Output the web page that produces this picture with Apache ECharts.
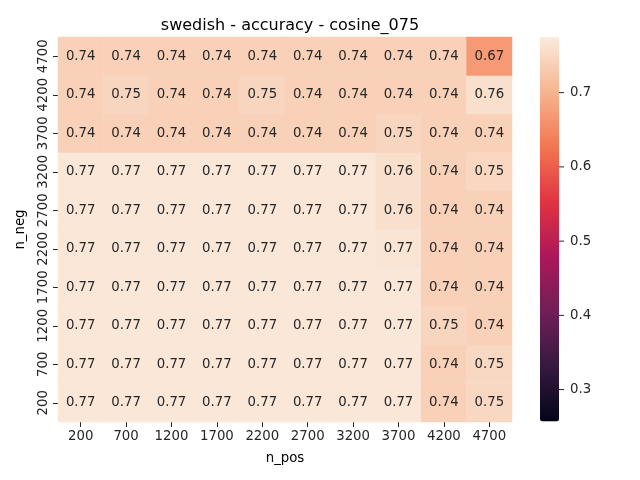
<!DOCTYPE html>
<html>
<head>
<meta charset="utf-8">
<script src="https://cdn.jsdelivr.net/npm/echarts@6/dist/echarts.min.js"></script>
<style>html,body{margin:0;padding:0;background:#fff;}#chart{width:640px;height:480px;}</style>
</head>
<body>
<div id="chart"></div>
<script>
const nPos = ['200','700','1200','1700','2200','2700','3200','3700','4200','4700'];
const nNeg = ['200','700','1200','1700','2200','2700','3200','3700','4200','4700'];
// rows indexed by n_neg (bottom to top), columns by n_pos
const row200  = [0.77,0.77,0.77,0.77,0.77,0.77,0.77,0.77,0.74,0.75];
const row700  = [0.77,0.77,0.77,0.77,0.77,0.77,0.77,0.77,0.74,0.75];
const row1200 = [0.77,0.77,0.77,0.77,0.77,0.77,0.77,0.77,0.746,0.74];
const row1700 = [0.77,0.77,0.77,0.77,0.77,0.77,0.77,0.77,0.74,0.74];
const row2200 = [0.77,0.77,0.77,0.77,0.77,0.77,0.77,0.767,0.74,0.74];
const row2700 = [0.77,0.77,0.77,0.77,0.77,0.77,0.77,0.76,0.74,0.74];
const row3200 = [0.77,0.77,0.77,0.77,0.77,0.77,0.77,0.76,0.74,0.748];
const row3700 = [0.74,0.74,0.74,0.74,0.74,0.74,0.74,0.746,0.74,0.74];
const row4200 = [0.74,0.746,0.74,0.74,0.746,0.74,0.74,0.74,0.74,0.76];
const row4700 = [0.74,0.74,0.74,0.74,0.74,0.74,0.74,0.74,0.74,0.67];
const rows = [row200,row700,row1200,row1700,row2200,row2700,row3200,row3700,row4200,row4700];
const colorMin = 0.257, colorMax = 0.775;
const colorbarTicks = [0.3,0.4,0.5,0.6,0.7];
const rocket = ['#03051a','#35193e','#701f57','#ad1759','#e13342','#f37651','#f6b48f','#faebdd'];

const data = [];
rows.forEach((r, yi) => r.forEach((v, xi) => data.push([xi, yi, v])));

const chart = echarts.init(document.getElementById('chart'));
const txt = '#262626';
chart.setOption({
  backgroundColor: '#fff',
  textStyle: { fontFamily: 'DejaVu Sans' },
  title: {
    text: 'swedish - accuracy - cosine_075',
    left: 285, top: 13, textAlign: 'center',
    textStyle: { fontFamily: 'DejaVu Sans', fontSize: 16, fontWeight: 'normal', color: '#000' }
  },
  grid: [
    { left: 58, right: 128, top: 37, bottom: 58 },
    { left: 540, width: 19, top: 37, height: 384.5 }
  ],
  xAxis: [
    { type: 'category', data: nPos, gridIndex: 0,
      name: 'n_pos', nameLocation: 'middle', nameGap: 30,
      nameTextStyle: { fontSize: 13.3, color: '#000' },
      axisLine: { show: false },
      axisTick: { show: true, alignWithLabel: true, length: 5, lineStyle: { color: txt } },
      axisLabel: { fontSize: 13.3, color: txt, margin: 8, interval: 0 },
      splitLine: { show: false } },
    { type: 'value', gridIndex: 1, min: 0, max: 1, show: false }
  ],
  yAxis: [
    { type: 'category', data: nNeg, gridIndex: 0,
      name: 'n_neg', nameLocation: 'middle', nameGap: 31, nameRotate: 90,
      nameTextStyle: { fontSize: 13.3, color: '#000' },
      axisLine: { show: false },
      axisTick: { show: true, alignWithLabel: true, length: 5, interval: 0, lineStyle: { color: txt } },
      axisLabel: { fontSize: 13.3, color: txt, rotate: 90, margin: 8, interval: 0 },
      splitLine: { show: false } },
    { type: 'value', gridIndex: 1, min: colorMin, max: colorMax, position: 'right',
      axisLine: { show: false }, axisTick: { show: false }, splitLine: { show: false },
      axisLabel: { fontSize: 13.3, color: txt, margin: 11, showMinLabel: false, showMaxLabel: false,
        formatter: v => v.toFixed(1) } }
  ],
  visualMap: {
    type: 'continuous', min: colorMin, max: colorMax, seriesIndex: 0,
    calculable: false, showLabel: false, text: null,
    left: 540, top: 37, itemWidth: 19, itemHeight: 384.5, padding: 0,
    inRange: { color: rocket }
  },
  series: [
    { type: 'heatmap', xAxisIndex: 0, yAxisIndex: 0, data: data,
      label: { show: true, fontSize: 13.3, color: txt, fontFamily: 'DejaVu Sans',
        formatter: p => p.value[2].toFixed(2) },
      itemStyle: { borderWidth: 0 },
      emphasis: { disabled: true } },
    { type: 'custom', xAxisIndex: 1, yAxisIndex: 1, silent: true,
      data: colorbarTicks.map(v => [1, v]),
      renderItem: (params, api) => {
        const p = api.coord([api.value(0), api.value(1)]);
        return { type: 'line', shape: { x1: p[0], y1: p[1], x2: p[0] + 5, y2: p[1] },
          style: { stroke: txt, lineWidth: 1 } };
      } }
  ]
});
</script>
</body>
</html>
